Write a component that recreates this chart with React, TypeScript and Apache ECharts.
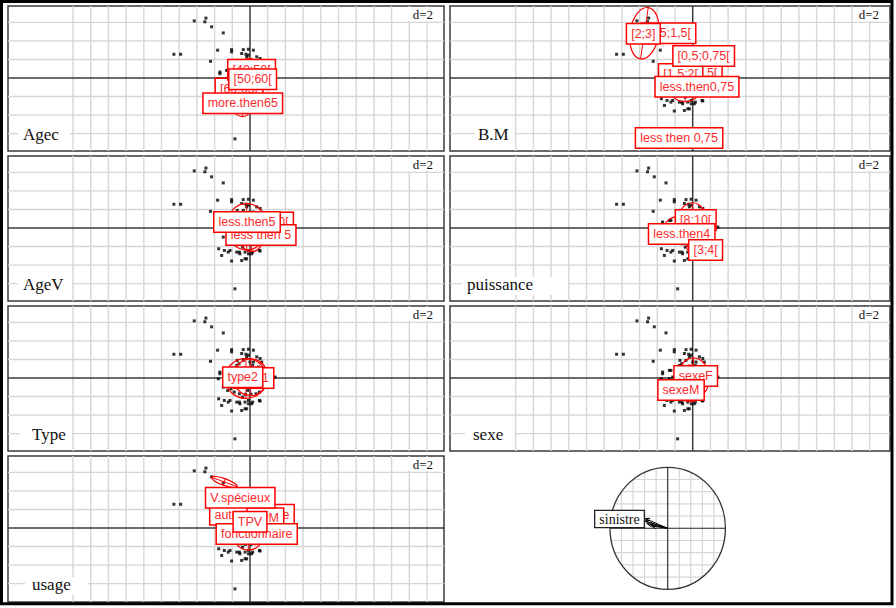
import React, { useEffect, useRef } from "react";
import * as echarts from "echarts";

// ---- row scores (same cloud in every panel), grid-cell units ----
const pointX = [-3.15, -2.55, -2.49, -2.17, -1.51, -4.3, -3.92, -1.83, -1.04, -1.04, -2.23, -1.7, -1.7, -1.32, -0.09, 0.19, -0.47, -0.23, -0.09, 0.38, 0.57, -0.38, 0, 0.19, 0.66, -0.75, 0.47, -1.13, -1.32, -1.79, 1.42, -1.6, -1.23, -1.13, -0.75, -0.57, -0.28, -0.09, 0.09, 0.57, -1.04, -0.47, -0.28, -0.85, -1.51, -1.26, -1.08, -0.89, -0.6, -0.26, 0.06, 0.34, 0.53, -1.77, -1.45, -0.6, 0.15, 0.53, -0.08, -0.19, -0.42, -0.13, -0.51, -0.32, -0.7, 0.34, 0.72, -0.21, 0.15, -0.62, 0.53, 0.25, -0.79, -0.19, -0.38, -0.72, -1.23];
const pointY = [3.08, 3.03, 3.23, 2.76, 2.43, 1.28, 1.28, 1.5, 1.53, 1.41, 0.9, 0.32, 0.23, 0.41, 1.55, 1.5, 1.32, 1.28, 1.23, 1.14, 1.05, 0.95, 0.86, 0.86, 0.86, 0.68, 0.59, 0.05, -0.04, -0.04, 0.05, -1.48, -1.3, -1.21, -1.3, -1.39, -1.3, -1.21, -1.39, -1.24, -1.78, -1.75, -1.66, -3.28, -0.49, -0.67, -0.58, -0.76, -0.85, -0.88, -0.88, -0.85, -0.76, -1.12, -1.21, -1.3, -1.3, -1.21, -1.39, -1.66, -1.03, -0.67, -0.22, 0.14, 0.41, 0.32, 0.23, 0.5, 0.68, 0.77, -0.31, -0.49, -0.49, 1.14, 1.53, 0.95, 0.41];

const gridCellX = [-10, -9, -8, -7, -6, -5, -4, -3, -2, -1, 1, 2, 3, 4, 5, 6, 7, 8, 9, 10];
const gridCellY = [-3, -2, -1, 1, 2, 3];

const panelTitles = ["Agec", "B.M", "AgeV", "puissance", "Type", "sexe", "usage"];
const scaleText = "d=2";

// ---- class centroids (label positions) and ellipses [cx, cy, rx, ry, rotation] ----
const agecNames = ["[60;65[", "[40;50[", "[50;60[", "more.then65"];
const agecX = [-0.62, 0.09, 0.15, -0.41];
const agecY = [-0.57, 0.45, -0.07, -1.36];
const agecEllipses = [[-0.04, -0.11, 0.79, 1.17, 0], [-0.43, -1.0, 0.7, 1.08, 0]];

const bmNames = ["[1;1,5[", "[1,5;2[", "less.then0,75", "[0,5;0,75[", "[0,5;1,5[", "[2;3]", "less then 0,75"];
const bmX = [0.41, -0.68, 0.24, 0.62, -1.37, -2.79, -0.77];
const bmY = [0.29, 0.22, -0.47, 1.18, 2.41, 2.39, -3.23];
const bmEllipses = [[-2.73, 2.41, 0.81, 1.4, -0.15], [-0.43, -0.2, 1.04, 1.08, 0]];

const agevNames = ["[5;10[", "less then 5", "less.then5"];
const agevX = [1.3, 0.62, -0.17];
const agevY = [0.3, -0.38, 0.32];
const agevEllipses = [[-0.19, 0.07, 1.13, 1.26, 0], [0.09, -0.29, 0.72, 0.99, 0]];

const puisNames = ["[8;10[", "less.then4", "[3;4["];
const puisX = [0.17, -0.62, 0.73];
const puisY = [0.43, -0.32, -1.18];
const puisEllipses = [[-0.02, 0.25, 0.85, 1.11, 0], [-0.81, -0.11, 0.85, 0.72, 0], [0.04, -1.0, 0.38, 0.32, 0]];

const typeNames = ["type1", "type2"];
const typeX = [0.21, -0.41];
const typeY = [0.0, 0.04];
const typeEllipses = [[-0.23, -0.02, 1.17, 1.08, 0], [0.04, 0.04, 0.98, 0.99, 0]];

const sexeNames = ["sexeF", "sexeM"];
const sexeX = [0.17, -0.66];
const sexeY = [0.11, -0.65];
const sexeEllipses = [[0.04, -0.02, 0.89, 1.11, 0], [-0.15, -0.29, 0.85, 0.99, 0]];

const usageNames = ["autre.utilitaire", "VPM", "fonctionnaire", "TPV", "V.spécieux"];
const usageX = [0.11, 0.87, 0.38, 0.0, -0.55];
const usageY = [0.72, 0.52, -0.32, 0.34, 1.63];
const usageEllipses = [[-1.45, 2.48, 0.77, 0.18, -0.35], [-0.09, -0.38, 0.85, 0.81, 0]];

// ---- correlation circle ----
const corGrid = [-0.8, -0.6, -0.4, -0.2, 0.2, 0.4, 0.6, 0.8];
const corArrowX = [-0.39, -0.39, -0.36, -0.31, -0.28];
const corArrowY = [0.16, 0.12, 0.08, 0.066, 0.038];
const corLabels = ["sinistre"];
const corLabelX = [-0.835];
const corLabelY = [0.152];

// ---- layout ----
const UX = 17.7;
const UY = 18.55;
const OY = 72;
const PANELS = [
  { l: 8, t: 6, w: 436, h: 145, ox: 242, tx: 23, bx: 18, bw: 52 },
  { l: 450, t: 6, w: 440, h: 145, ox: 242.7, tx: 478, bx: 475, bw: 40 },
  { l: 8, t: 156, w: 436, h: 145, ox: 242, tx: 23, bx: 18, bw: 54 },
  { l: 450, t: 156, w: 440, h: 145, ox: 242.7, tx: 467, bx: 462, bw: 106 },
  { l: 8, t: 306, w: 436, h: 145, ox: 242, tx: 32, bx: 20, bw: 52 },
  { l: 450, t: 306, w: 440, h: 145, ox: 242.7, tx: 473, bx: 465, bw: 50 },
  { l: 8, t: 456, w: 436, h: 146, ox: 242, tx: 32, bx: 25, bw: 63 },
];
const panelClasses: any[] = [
  [agecNames, agecX, agecY, agecEllipses],
  [bmNames, bmX, bmY, bmEllipses],
  [agevNames, agevX, agevY, agevEllipses],
  [puisNames, puisX, puisY, puisEllipses],
  [typeNames, typeX, typeY, typeEllipses],
  [sexeNames, sexeX, sexeY, sexeEllipses],
  [usageNames, usageX, usageY, usageEllipses],
];

const RED = "#ff0000";
const SANS = '"Liberation Sans", Arial, sans-serif';
const SERIF = '"Liberation Serif", "Times New Roman", serif';

export default function App() {
  const ref = useRef<HTMLDivElement>(null);
  useEffect(() => {
    const chart = echarts.init(ref.current!, null, { renderer: "svg", width: 896, height: 608 });
    const grids: any[] = [];
    const xAxes: any[] = [];
    const yAxes: any[] = [];
    const series: any[] = [];
    const graphics: any[] = [];

    PANELS.forEach((p, i) => {
      grids.push({ left: p.l, top: p.t, width: p.w, height: p.h, show: true, borderColor: "#3a3a3a", borderWidth: 1.5, backgroundColor: "#fff" });
      xAxes.push({ type: "value", gridIndex: i, min: -p.ox / UX, max: (p.w - p.ox) / UX, show: false });
      yAxes.push({ type: "value", gridIndex: i, min: -(p.h - OY) / UY, max: OY / UY, show: false });

      const lineData = [
        ...gridCellX.map((v) => [0, v]),
        ...gridCellY.map((v) => [1, v]),
        [2, 0],
        [3, 0],
      ];
      series.push({
        type: "custom",
        xAxisIndex: i,
        yAxisIndex: i,
        z: 1,
        silent: true,
        data: lineData,
        renderItem: (params: any, api: any) => {
          const cs = params.coordSys;
          const t = api.value(0);
          const v = api.value(1);
          const isAxis = t >= 2;
          const style = isAxis ? { stroke: "#3a3a3a", lineWidth: 1.5 } : { stroke: "#d6d6d6", lineWidth: 1.4 };
          if (t === 0 || t === 2) {
            const x = api.coord([v, 0])[0];
            return { type: "line", shape: { x1: x, y1: cs.y, x2: x, y2: cs.y + cs.height }, style, z2: isAxis ? 2 : 1 };
          }
          const y = api.coord([0, v])[1];
          return { type: "line", shape: { x1: cs.x, y1: y, x2: cs.x + cs.width, y2: y }, style, z2: isAxis ? 2 : 1 };
        },
      });

      series.push({
        type: "scatter",
        xAxisIndex: i,
        yAxisIndex: i,
        z: 3,
        silent: true,
        symbol: "rect",
        symbolSize: 3,
        itemStyle: { color: "#000" },
        data: pointX.map((x, k) => [x, pointY[k]]),
      });

      const [names, lx, ly, ells] = panelClasses[i];
      series.push({
        type: "custom",
        xAxisIndex: i,
        yAxisIndex: i,
        z: 4,
        silent: true,
        data: ells,
        renderItem: (_params: any, api: any) => {
          const c = api.coord([api.value(0), api.value(1)]);
          const s = api.size([api.value(2), api.value(3)]);
          return {
            type: "group",
            x: c[0],
            y: c[1],
            rotation: api.value(4),
            children: [
              { type: "ellipse", shape: { cx: 0, cy: 0, rx: s[0], ry: s[1] }, style: { fill: "none", stroke: RED, lineWidth: 1.2 } },
              { type: "line", shape: { x1: 0, y1: -s[1], x2: 0, y2: s[1] }, style: { stroke: RED, lineWidth: 0.9 } },
              { type: "line", shape: { x1: -s[0], y1: 0, x2: s[0], y2: 0 }, style: { stroke: RED, lineWidth: 0.9 } },
            ],
          };
        },
      });

      series.push({
        type: "custom",
        xAxisIndex: i,
        yAxisIndex: i,
        z: 5,
        silent: true,
        data: lx.map((x: number, k: number) => [x, ly[k]]),
        renderItem: (params: any, api: any) => {
          const c = api.coord([api.value(0), api.value(1)]);
          return {
            type: "text",
            x: c[0],
            y: c[1],
            z2: params.dataIndex + 1,
            style: {
              text: names[params.dataIndex],
              align: "center",
              verticalAlign: "middle",
              fill: "#ff2a2a",
              fontSize: 12.5,
              fontFamily: SANS,
              backgroundColor: "#fff",
              borderColor: RED,
              borderWidth: 1.5,
              padding: [3, 4],
            },
          };
        },
      });

      // panel title with white box
      graphics.push({ type: "rect", z: 2, silent: true, shape: { x: p.bx, y: p.t + 121, width: p.bw, height: 18 }, style: { fill: "#fff" } });
      graphics.push({
        type: "text",
        z: 2,
        silent: true,
        x: p.tx,
        y: p.t + 128.5,
        style: { text: panelTitles[i], font: `17px ${SERIF}`, fill: "#111", align: "left", verticalAlign: "middle" },
      });
      // d=2 box
      graphics.push({ type: "rect", z: 2, silent: true, shape: { x: p.l + p.w - 37, y: p.t + 1, width: 36, height: 14 }, style: { fill: "#fff" } });
      graphics.push({
        type: "text",
        z: 2,
        silent: true,
        x: p.l + p.w - 11,
        y: p.t + 8.5,
        style: { text: scaleText, font: `13px ${SERIF}`, fill: "#111", align: "right", verticalAlign: "middle" },
      });
    });

    // correlation circle panel
    const ci = PANELS.length;
    grids.push({ left: 610, top: 467.3, width: 115.4, height: 122, show: false });
    xAxes.push({ type: "value", gridIndex: ci, min: -1, max: 1, show: false });
    yAxes.push({ type: "value", gridIndex: ci, min: -1, max: 1, show: false });
    series.push({
      type: "custom",
      xAxisIndex: ci,
      yAxisIndex: ci,
      z: 1,
      silent: true,
      data: [...corGrid.map((c) => [0, c]), ...corGrid.map((c) => [1, c]), [2, 0], [3, 0]],
      renderItem: (_params: any, api: any) => {
        const t = api.value(0);
        const c = api.value(1);
        const half = Math.sqrt(Math.max(0, 1 - c * c));
        const style = t >= 2 ? { stroke: "#222", lineWidth: 1.1 } : { stroke: "#d6d6d6", lineWidth: 1.2 };
        if (t === 0 || t === 2) {
          const a = api.coord([c, -half]);
          const b = api.coord([c, half]);
          return { type: "line", shape: { x1: a[0], y1: a[1], x2: b[0], y2: b[1] }, style, z2: t >= 2 ? 2 : 1 };
        }
        const a = api.coord([-half, c]);
        const b = api.coord([half, c]);
        return { type: "line", shape: { x1: a[0], y1: a[1], x2: b[0], y2: b[1] }, style, z2: t >= 2 ? 2 : 1 };
      },
    });
    series.push({
      type: "custom",
      xAxisIndex: ci,
      yAxisIndex: ci,
      z: 2,
      silent: true,
      data: [[0, 0, 1]],
      renderItem: (_params: any, api: any) => {
        const c = api.coord([api.value(0), api.value(1)]);
        const s = api.size([api.value(2), api.value(2)]);
        return { type: "ellipse", shape: { cx: c[0], cy: c[1], rx: s[0], ry: s[1] }, style: { fill: "none", stroke: "#333", lineWidth: 1.3 } };
      },
    });
    series.push({
      type: "custom",
      xAxisIndex: ci,
      yAxisIndex: ci,
      z: 3,
      silent: true,
      data: corArrowX.map((x, k) => [x, corArrowY[k]]),
      renderItem: (_params: any, api: any) => {
        const o = api.coord([0, 0]);
        const tip = api.coord([api.value(0), api.value(1)]);
        const ang = Math.atan2(tip[1] - o[1], tip[0] - o[0]);
        const L = 5;
        const a = 0.45;
        const h1 = [tip[0] - L * Math.cos(ang - a), tip[1] - L * Math.sin(ang - a)];
        const h2 = [tip[0] - L * Math.cos(ang + a), tip[1] - L * Math.sin(ang + a)];
        return {
          type: "group",
          children: [
            { type: "line", shape: { x1: o[0], y1: o[1], x2: tip[0], y2: tip[1] }, style: { stroke: "#000", lineWidth: 1 } },
            { type: "polyline", shape: { points: [h1, tip, h2] }, style: { stroke: "#000", fill: "none", lineWidth: 1 } },
          ],
        };
      },
    });
    series.push({
      type: "custom",
      xAxisIndex: ci,
      yAxisIndex: ci,
      z: 4,
      silent: true,
      data: corLabelX.map((x, k) => [x, corLabelY[k]]),
      renderItem: (params: any, api: any) => {
        const c = api.coord([api.value(0), api.value(1)]);
        return {
          type: "text",
          x: c[0],
          y: c[1],
          style: {
            text: corLabels[params.dataIndex],
            align: "center",
            verticalAlign: "middle",
            fill: "#111",
            fontSize: 14,
            fontFamily: SERIF,
            backgroundColor: "#fff",
            borderColor: "#222",
            borderWidth: 1.3,
            padding: [1, 4],
          },
        };
      },
    });

    // outer border
    graphics.push({ type: "rect", z: 10, silent: true, shape: { x: 1.5, y: 1.5, width: 890.5, height: 602.3 }, style: { fill: "none", stroke: "#000", lineWidth: 3 } });

    chart.setOption({
      animation: false,
      backgroundColor: "#fff",
      grid: grids,
      xAxis: xAxes,
      yAxis: yAxes,
      series,
      graphic: graphics,
    });
    return () => chart.dispose();
  }, []);
  return <div ref={ref} style={{ position: "absolute", left: 0, top: 0, width: 896, height: 608, background: "#fff" }} />;
}
